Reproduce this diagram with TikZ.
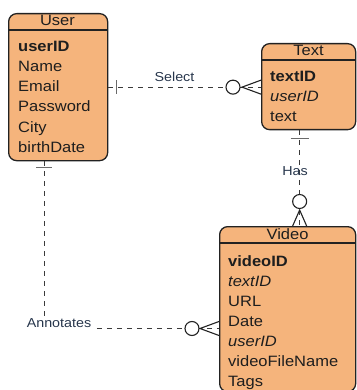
\documentclass[tikz,border=0pt]{standalone}
\usepackage{fontspec}
\setmainfont[FakeStretch=1.1]{Liberation Sans}
\definecolor{erfill}{HTML}{F5B47C}
\definecolor{erline}{HTML}{222222}
\definecolor{conn}{HTML}{3A3A3A}
\definecolor{barc}{HTML}{6A6A6A}
\definecolor{txt}{HTML}{1E1E1E}
\definecolor{lbltxt}{HTML}{27364C}
\tikzset{
  entity/.style={draw=erline, line width=1.3pt, fill=erfill, rounded corners=8pt,
    anchor=north west, inner sep=0pt},
  attr/.style={anchor=base west, inner sep=0pt, font=\fontsize{15}{18}\selectfont, text=txt},
  hdr/.style={anchor=base, inner sep=0pt, font=\fontsize{15}{18}\selectfont, text=txt},
  hline/.style={draw=erline, line width=1.3pt},
  rel/.style={draw=conn, line width=1.1pt, dash pattern=on 5pt off 5pt},
  lbl/.style={anchor=base, inner sep=0pt, font=\fontsize{13}{15}\selectfont, text=lbltxt},
  onebar/.style={draw=barc, line width=1.4pt},
  crow/.style={draw=erline, line width=1.1pt},
  zero/.style={draw=erline, fill=white, line width=1.1pt}
}
\begin{document}
\begin{tikzpicture}[x=1pt,y=-1pt]
\useasboundingbox (0,0) rectangle (356,390);

% ---------- entities ----------
\node[entity, minimum width=99pt, minimum height=147pt] (user) at (8,13) {};
\node[entity, minimum width=94pt, minimum height=86pt] (text) at (261,43) {};
\node[entity, minimum width=136pt, minimum height=165pt] (video) at (219,226) {};

\draw[hline] (user.west |- 0,30) -- (user.east |- 0,30);
\draw[hline] (text.west |- 0,60) -- (text.east |- 0,60);
\draw[hline] (video.west |- 0,243) -- (video.east |- 0,243);

% ---------- User ----------
\node[hdr] (uh) at (57.5,26) {User};
\node[attr] (u1) at (18,52) {\bfseries userID};
\node[attr] (u2) at (18,72) {Name};
\node[attr] (u3) at (18,92) {Email};
\node[attr] (u4) at (18,112) {Password};
\node[attr] (u5) at (18,132) {City};
\node[attr] (u6) at (18,152) {birthDate};

% ---------- Text ----------
\node[hdr] (th) at (308.5,56) {Text};
\node[attr] (t1) at (270,82) {\bfseries textID};
\node[attr] (t2) at (270,102) {\itshape userID};
\node[attr] (t3) at (270,122) {text};

% ---------- Video ----------
\node[hdr] (vh) at (287.5,239) {Video};
\node[attr] (v1) at (228,266) {\bfseries videoID};
\node[attr] (v2) at (228,286) {\itshape textID};
\node[attr] (v3) at (228,306) {URL};
\node[attr] (v4) at (228,326) {Date};
\node[attr] (v5) at (228,346) {\itshape userID};
\node[attr] (v6) at (228,366) {videoFileName};
\node[attr] (v7) at (228,386) {Tags};

% ---------- Select ----------
\coordinate (tw) at (text.west |- user.east);
\draw[rel] (user.east) -- (tw);
\draw[onebar] ([xshift=8pt]user.east) ++(0,-7) -- ++(0,14);
\draw[zero] (tw) ++(-28,0) circle (7pt);
\draw[crow] (tw) ++(0,-7) -- ++(-19,7) -- ++(19,7);
\node[lbl] (lsel) at (174.5,82) {Select};

% ---------- Has ----------
\coordinate (tb) at ([xshift=-9pt]text.south);
\coordinate (vt) at (video.north -| tb);
\draw[rel] (tb) -- (vt);
\draw[onebar] (tb) ++(-9,8) -- ++(18,0);
\draw[zero] (vt) ++(0,-24.5) circle (7pt);
\draw[crow] (vt) ++(-7,0) -- ++(7,-16) -- ++(7,16);
\node[lbl] (lhas) at (295,175) {Has};

% ---------- Annotates ----------
\coordinate (ub) at ([xshift=-14pt]user.south);
\coordinate (vl) at (video.west |- 0,328.5);
\draw[rel] (ub) |- (vl);
\draw[onebar] (ub) ++(-8,6) -- ++(16,0);
\draw[zero] (vl) ++(-27,0) circle (7pt);
\draw[crow] (vl) ++(0,-7) -- ++(-19,7) -- ++(19,7);
\node[lbl, fill=white, inner sep=1.5pt] (lann) at (59,327) {Annotates};
\end{tikzpicture}
\end{document}
